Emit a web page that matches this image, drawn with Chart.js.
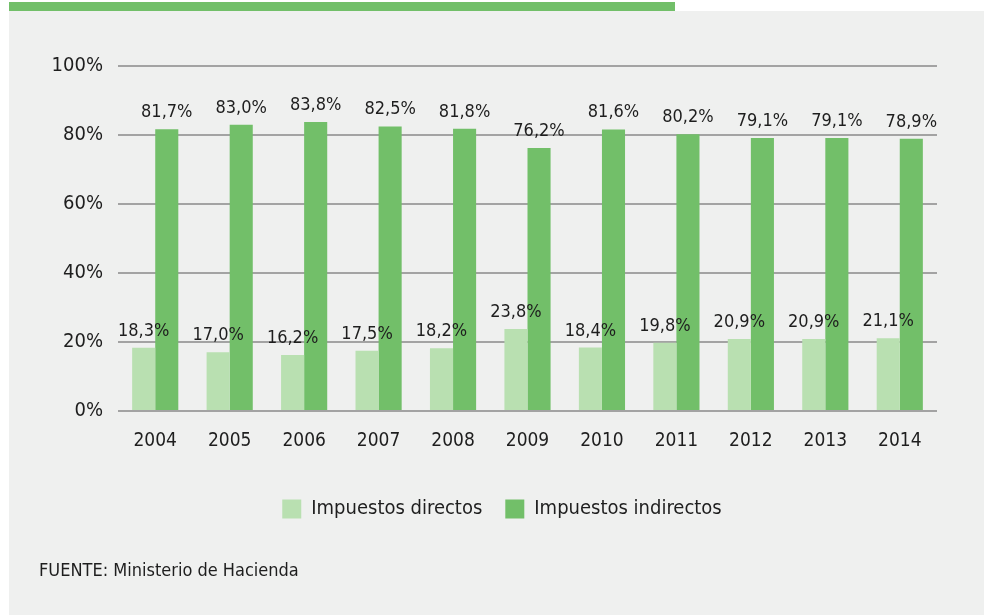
<!DOCTYPE html>
<html>
<head>
<meta charset="utf-8">
<script src="https://cdn.jsdelivr.net/npm/chart.js@4/dist/chart.umd.min.js"></script>
<style>
html,body{margin:0;padding:0;background:#fff;}
#wrap{position:relative;width:984px;height:615px;overflow:hidden;background:#fff;}
#panel{position:absolute;left:9px;top:11px;width:975px;height:604px;background:#eff0ef;}
#topbar{position:absolute;left:9px;top:2px;width:666px;height:9px;background:#72bf69;}
#src{position:absolute;left:39px;top:559px;font-size:18px;line-height:21px;font-family:"DejaVu Sans Condensed",sans-serif;color:#1e1e1e;white-space:nowrap;}
canvas{position:absolute;left:0;top:0;}
</style>
</head>
<body>
<div id="wrap">
  <div id="panel"></div>
  <div id="topbar"></div>
  <canvas id="c" width="984" height="615"></canvas>
  <div id="src">FUENTE: Ministerio de Hacienda</div>
</div>
<script>
const years = ['2004','2005','2006','2007','2008','2009','2010','2011','2012','2013','2014'];
const directos = [18.3,17.0,16.2,17.5,18.2,23.8,18.4,19.8,20.9,20.9,21.1];
const indirectos = [81.7,83.0,83.8,82.5,81.8,76.2,81.6,80.2,79.1,79.1,78.9];
const yTicks = [0,20,40,60,80,100];
const seriesNames = ['Impuestos directos','Impuestos indirectos'];

const FONT = '"DejaVu Sans Condensed",sans-serif';
const TEXT = '#1e1e1e';
const LIGHT = '#b9e0b1';
const DARK = '#72bf69';
const GRID = '#a3a3a3';

const fmt = v => v.toFixed(1).replace('.', ',') + '%';

const labelPlugin = {
  id: 'barLabels',
  afterDatasetsDraw(chart) {
    const ctx = chart.ctx;
    ctx.save();
    ctx.font = '18px ' + FONT;
    ctx.fillStyle = TEXT;
    ctx.textAlign = 'center';
    ctx.textBaseline = 'alphabetic';
    chart.data.datasets.forEach((ds, di) => {
      const meta = chart.getDatasetMeta(di);
      meta.data.forEach((bar, i) => {
        ctx.fillText(fmt(ds.data[i]), bar.x, bar.y - 12);
      });
    });
    ctx.restore();
  }
};

const legendShift = {
  id: 'legendShift',
  afterLayout(chart) {
    if (chart.legend) { chart.legend.left += 67; }
  }
};

new Chart(document.getElementById('c'), {
  type: 'bar',
  data: {
    labels: years,
    datasets: [
      { label: seriesNames[0], data: directos, backgroundColor: LIGHT, borderWidth: 0 },
      { label: seriesNames[1], data: indirectos, backgroundColor: DARK, borderWidth: 0 }
    ]
  },
  options: {
    responsive: false,
    animation: false,
    devicePixelRatio: 1,
    layout: { padding: { left: 0, right: 47, top: 66, bottom: 86 } },
    datasets: { bar: { categoryPercentage: 0.62, barPercentage: 1.0 } },
    plugins: {
      legend: {
        position: 'bottom',
        labels: {
          boxWidth: 19, boxHeight: 19, padding: 23,
          color: TEXT,
          font: { family: FONT, size: 20 }
        }
      },
      tooltip: { enabled: false }
    },
    scales: {
      x: {
        grid: { display: false, drawTicks: false },
        border: { display: false },
        ticks: { color: TEXT, font: { family: FONT, size: 19 }, padding: 19 },
        afterFit: s => { s.height = 65; }
      },
      y: {
        min: 0, max: 100,
        afterBuildTicks: s => { s.ticks = yTicks.map(v => ({ value: v })); },
        ticks: { color: TEXT, font: { family: FONT, size: 20 }, padding: 15, callback: v => v + '%' },
        grid: { color: GRID, lineWidth: 2, drawTicks: false },
        border: { display: false },
        afterFit: s => { s.width = 118; }
      }
    }
  },
  plugins: [labelPlugin, legendShift]
});
</script>
</body>
</html>
